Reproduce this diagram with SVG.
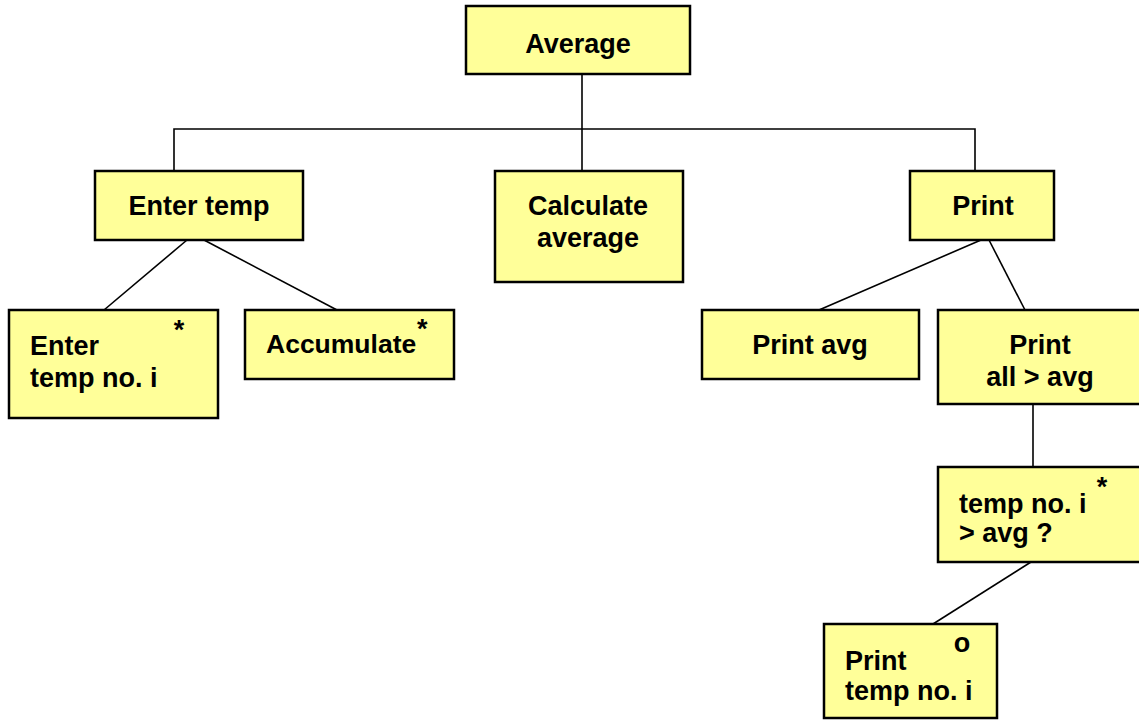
<svg xmlns="http://www.w3.org/2000/svg" width="1139" height="720" viewBox="0 0 1139 720">
<style>
.box{fill:#FFFF99;stroke:#000;stroke-width:2.5}
.t{font-family:"Liberation Sans",Arial,sans-serif;font-weight:bold;font-size:27px;fill:#000}
.c{text-anchor:middle}
.ln{stroke:#000;stroke-width:1.6;fill:none}
</style>
<rect width="1139" height="720" fill="#fff"/>
<g id="connectors">
<line class="ln" x1="582" y1="74" x2="582" y2="171"/>
<polyline class="ln" points="174,171 174,129 975,129 975,171"/>
<line class="ln" x1="187" y1="240" x2="104" y2="310"/>
<line class="ln" x1="204" y1="240" x2="337" y2="310"/>
<line class="ln" x1="981" y1="240" x2="819" y2="310"/>
<line class="ln" x1="989" y1="240" x2="1025" y2="310"/>
<line class="ln" x1="1033" y1="404" x2="1033" y2="467"/>
<line class="ln" x1="1031" y1="562" x2="933" y2="624"/>
</g>
<g id="average">
<rect class="box" x="466" y="6" width="224" height="68"/>
<text class="t c" x="578" y="53">Average</text>
</g>
<g id="enter-temp">
<rect class="box" x="95" y="171" width="208" height="69"/>
<text class="t c" x="199" y="215">Enter temp</text>
</g>
<g id="calculate-average">
<rect class="box" x="495" y="171" width="188" height="111"/>
<text class="t c" x="588" y="215">Calculate</text>
<text class="t c" x="588" y="247">average</text>
</g>
<g id="print">
<rect class="box" x="910" y="171" width="144" height="69"/>
<text class="t c" x="983" y="215">Print</text>
</g>
<g id="enter-temp-no-i">
<rect class="box" x="9" y="310" width="209" height="108"/>
<text class="t" x="30" y="355">Enter</text>
<text class="t" x="30" y="387">temp no. i</text>
<text class="t c" x="179" y="339">*</text>
</g>
<g id="accumulate">
<rect class="box" x="245" y="310" width="209" height="69"/>
<text class="t" x="266" y="353" style="font-size:26.5px">Accumulate</text>
<text class="t" x="417" y="338">*</text>
</g>
<g id="print-avg">
<rect class="box" x="702" y="310" width="217" height="69"/>
<text class="t c" x="810" y="354">Print avg</text>
</g>
<g id="print-all">
<rect class="box" x="938" y="310" width="210" height="94"/>
<text class="t c" x="1040" y="354">Print</text>
<text class="t c" x="1040" y="386">all &gt; avg</text>
</g>
<g id="temp-gt-avg">
<rect class="box" x="938" y="467" width="210" height="95"/>
<text class="t" x="959" y="513">temp no. i</text>
<text class="t" x="959" y="542">&gt; avg ?</text>
<text class="t c" x="1102" y="496">*</text>
</g>
<g id="print-temp-no-i">
<rect class="box" x="824" y="624" width="173" height="94"/>
<text class="t" x="845" y="670">Print</text>
<text class="t" x="845" y="700">temp no. i</text>
<text class="t c" x="962" y="652">o</text>
</g>
</svg>
